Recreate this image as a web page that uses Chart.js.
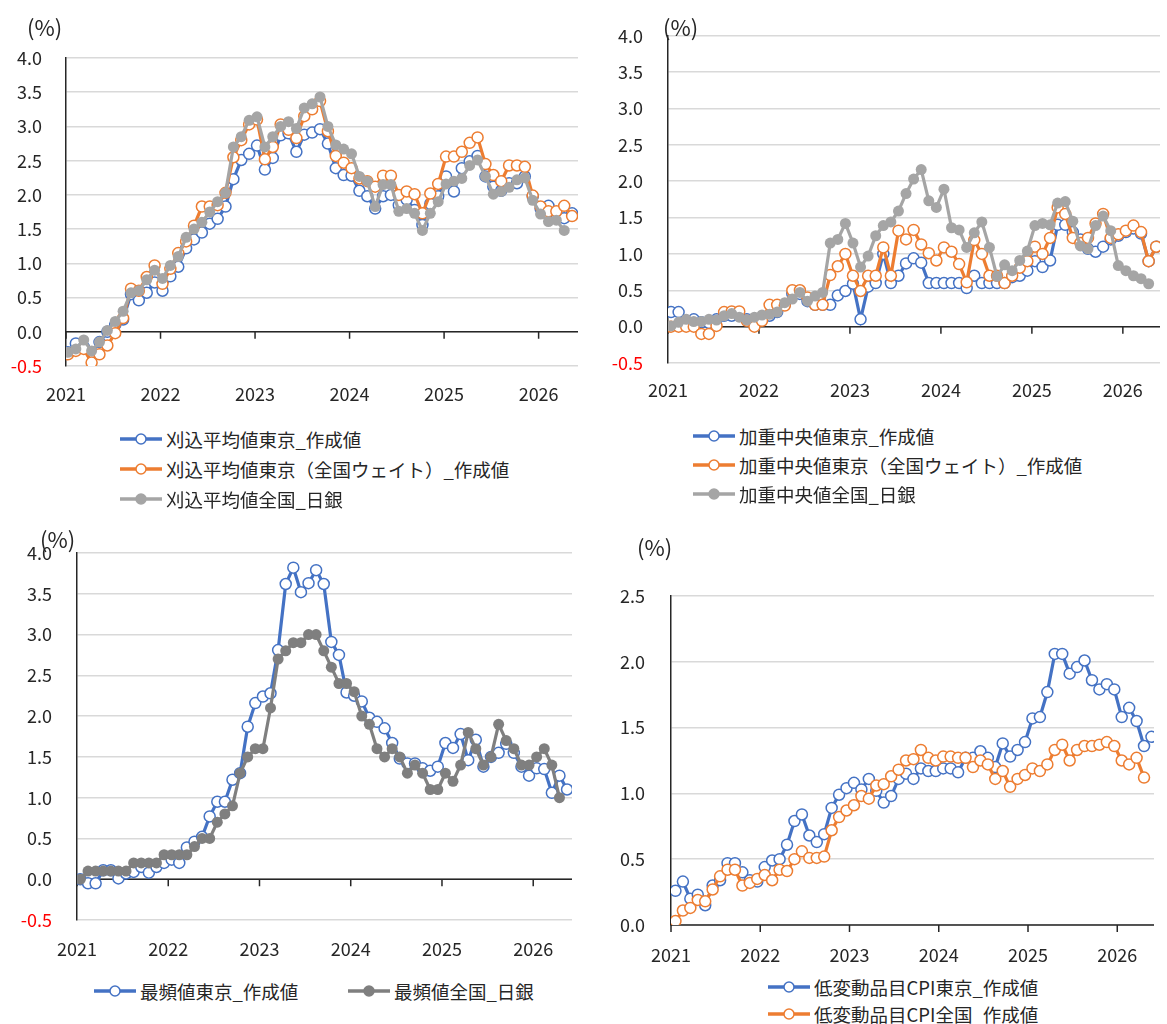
<!DOCTYPE html>
<html><head><meta charset="utf-8">
<script src="https://cdn.jsdelivr.net/npm/chart.js@4.4.1/dist/chart.umd.min.js"></script>
<style>
html,body{margin:0;padding:0;background:#fff;}
body{width:1167px;height:1024px;position:relative;overflow:hidden;font-family:"Noto Sans CJK JP","Noto Sans",sans-serif;color:#262626;}
.box{position:absolute;}
.unit{position:absolute;font-size:22px;line-height:24px;transform:translateY(-50%);}
.leg{position:absolute;font-size:18.5px;line-height:22px;display:flex;align-items:center;transform:translateY(-50%);white-space:nowrap;}
.leg svg{margin-right:4px;flex:none;}
</style></head><body>
<div class="box" style="left:0;top:0;width:590px;height:410px"><canvas id="c1"></canvas></div>
<div class="box" style="left:590px;top:0;width:577px;height:410px"><canvas id="c2"></canvas></div>
<div class="box" style="left:0;top:512px;width:590px;height:460px"><canvas id="c3"></canvas></div>
<div class="box" style="left:590px;top:512px;width:577px;height:460px"><canvas id="c4"></canvas></div>
<div class="unit" style="left:27px;top:26px">(%)</div>
<div class="unit" style="left:663px;top:26px">(%)</div>
<div class="unit" style="left:40px;top:538px">(%)</div>
<div class="unit" style="left:637px;top:546px">(%)</div>
<div id="legends"></div>
<script>
const yearLabels = ['2021','2022','2023','2024','2025','2026'];

// Panel 1: trimmed mean
const p1Names = ['刈込平均値東京_作成値','刈込平均値東京（全国ウェイト）_作成値','刈込平均値全国_日銀'];
const p1Tokyo = [-0.3,-0.17,-0.22,-0.3,-0.15,0.0,0.1,0.18,0.55,0.46,0.57,0.72,0.6,0.81,0.95,1.22,1.35,1.45,1.58,1.65,1.83,2.23,2.51,2.6,2.72,2.37,2.54,2.87,2.9,2.63,2.88,2.91,2.96,2.75,2.39,2.29,2.28,2.06,1.98,1.8,1.98,2.0,1.85,1.93,1.78,1.56,1.87,1.98,2.27,2.05,2.39,2.49,2.57,2.27,2.12,2.06,2.17,2.17,2.27,1.98,1.8,1.84,1.72,1.66,1.73];
const p1TokyoNW = [-0.33,-0.28,-0.25,-0.45,-0.33,-0.2,-0.02,0.2,0.63,0.6,0.8,0.97,0.7,0.92,1.15,1.32,1.55,1.83,1.83,1.85,2.03,2.55,2.8,3.03,3.1,2.52,2.7,3.03,2.95,2.83,3.15,3.25,3.37,2.93,2.57,2.47,2.39,2.24,2.2,2.12,2.28,2.28,2.0,2.05,2.01,1.73,2.02,2.16,2.56,2.56,2.63,2.76,2.84,2.45,2.29,2.2,2.43,2.43,2.41,1.99,1.83,1.76,1.76,1.84,1.69];
const p1BOJ = [-0.3,-0.25,-0.12,-0.28,-0.15,0.02,0.15,0.3,0.57,0.6,0.76,0.9,0.78,0.97,1.1,1.38,1.5,1.6,1.75,1.9,2.03,2.7,2.85,3.09,3.14,2.7,2.85,3.0,3.07,2.97,3.27,3.33,3.43,3.0,2.73,2.67,2.6,2.27,2.2,1.83,2.15,2.15,1.76,1.8,1.73,1.48,1.73,1.9,2.16,2.2,2.24,2.43,2.51,2.27,2.01,2.05,2.11,2.22,2.25,1.92,1.72,1.61,1.63,1.48,null];

// Panel 2: weighted median
const p2Names = ['加重中央値東京_作成値','加重中央値東京（全国ウェイト）_作成値','加重中央値全国_日銀'];
const p2Tokyo = [0.2,0.2,0.08,0.1,0.06,0.05,0.1,0.15,0.15,0.15,0.1,0.1,0.12,0.15,0.2,0.3,0.45,0.45,0.35,0.3,0.3,0.3,0.43,0.49,0.59,0.1,0.55,0.6,1.0,0.6,0.7,0.87,0.94,0.88,0.6,0.6,0.6,0.6,0.6,0.53,0.7,0.6,0.6,0.6,0.6,0.68,0.7,0.77,0.9,0.82,0.91,1.4,1.4,1.3,1.2,1.07,1.03,1.1,1.2,1.25,1.3,1.35,1.28,0.9,1.1];
const p2TokyoNW = [0,0,0,0,-0.1,-0.1,0.01,0.2,0.21,0.21,0.08,0.0,0.08,0.3,0.3,0.29,0.5,0.5,0.4,0.3,0.3,0.71,0.83,1.0,0.7,0.49,0.7,0.7,1.09,0.7,1.32,1.2,1.33,1.13,1.01,0.91,1.09,1.03,0.86,0.61,1.19,1.0,0.7,0.7,0.6,0.7,0.81,0.9,1.1,1.0,1.22,1.64,1.55,1.22,1.15,1.22,1.42,1.55,1.22,1.27,1.32,1.39,1.3,0.9,1.1];
const p2BOJ = [0.01,0.06,0.1,0.07,0.07,0.1,0.09,0.15,0.18,0.13,0.09,0.13,0.16,0.17,0.2,0.33,0.38,0.47,0.35,0.42,0.47,1.15,1.2,1.42,1.15,0.82,0.97,1.25,1.39,1.44,1.59,1.83,2.03,2.16,1.73,1.64,1.89,1.36,1.33,1.09,1.29,1.44,1.09,0.69,0.85,0.77,0.91,1.04,1.39,1.42,1.4,1.7,1.72,1.45,1.11,1.07,1.39,1.52,1.32,0.84,0.77,0.7,0.66,0.59,null];

// Panel 3: mode
const p3Names = ['最頻値東京_作成値','最頻値全国_日銀'];
const p3Tokyo = [0,-0.05,-0.05,0.11,0.11,0.01,0.07,0.09,0.15,0.08,0.15,0.2,0.24,0.2,0.39,0.46,0.52,0.77,0.95,0.95,1.22,1.3,1.87,2.16,2.24,2.28,2.81,3.62,3.82,3.52,3.63,3.79,3.62,2.91,2.75,2.29,2.25,2.18,1.98,1.93,1.85,1.67,1.48,1.42,1.42,1.36,1.33,1.38,1.67,1.61,1.78,1.46,1.71,1.38,1.5,1.55,1.66,1.55,1.38,1.27,1.36,1.35,1.06,1.27,1.1];
const p3BOJ = [0,0.1,0.1,0.1,0.1,0.1,0.1,0.2,0.2,0.2,0.2,0.3,0.3,0.3,0.3,0.4,0.5,0.5,0.7,0.8,0.9,1.3,1.5,1.6,1.6,2.1,2.7,2.8,2.9,2.9,3.0,3.0,2.8,2.6,2.4,2.4,2.3,2.0,1.9,1.6,1.5,1.6,1.5,1.3,1.4,1.3,1.1,1.1,1.3,1.2,1.4,1.8,1.6,1.4,1.5,1.9,1.7,1.6,1.4,1.4,1.5,1.6,1.4,1.0,null];

// Panel 4: low-volatility items CPI
const p4Names = ['低変動品目CPI東京_作成値','低変動品目CPI全国_作成値'];
const p4Tokyo = [0.26,0.33,0.2,0.23,0.15,0.3,0.34,0.47,0.47,0.4,0.34,0.33,0.44,0.49,0.5,0.61,0.79,0.84,0.68,0.63,0.69,0.89,0.99,1.04,1.08,1.03,1.11,1.02,0.93,0.98,1.11,1.15,1.11,1.19,1.17,1.17,1.19,1.19,1.16,1.27,1.27,1.32,1.27,1.2,1.38,1.28,1.33,1.39,1.57,1.58,1.77,2.06,2.06,1.91,1.96,2.01,1.86,1.79,1.83,1.79,1.58,1.65,1.55,1.36,1.43];
const p4National = [0.03,0.11,0.13,0.19,0.18,0.27,0.37,0.42,0.42,0.3,0.32,0.35,0.38,0.34,0.42,0.41,0.5,0.56,0.51,0.51,0.52,0.72,0.82,0.87,0.91,0.98,0.96,1.06,1.07,1.13,1.18,1.25,1.26,1.33,1.27,1.25,1.28,1.28,1.27,1.27,1.2,1.25,1.22,1.11,1.17,1.05,1.11,1.14,1.19,1.17,1.22,1.33,1.37,1.25,1.33,1.36,1.36,1.37,1.39,1.36,1.25,1.22,1.27,1.12,null];

const BLUE='#4472C4', ORANGE='#ED7D31', GRAY='#A5A5A5', DGRAY='#7F7F7F';
const FONT = '"Noto Sans CJK JP","Noto Sans",sans-serif';

const zeroAxis = {
  id:'zeroAxis',
  beforeDatasetsDraw(chart){
    const {ctx, chartArea, scales:{x,y}} = chart;
    const y0 = y.getPixelForValue(0);
    ctx.save();
    ctx.strokeStyle='#262626'; ctx.lineWidth=1.5;
    ctx.beginPath();
    ctx.moveTo(chartArea.left,y0); ctx.lineTo(chartArea.right,y0);
    x.ticks.forEach(t=>{const px=x.getPixelForValue(t.value); ctx.moveTo(px,y0); ctx.lineTo(px,y0+7);});
    ctx.stroke(); ctx.restore();
  }
};

function series(label, values, color, hollow, order){
  return {
    label, order,
    data: values.map((v,i)=>({x:i,y:v})),
    borderColor: color, borderWidth: 3.2,
    pointRadius: 5.5, pointHoverRadius: 5.5,
    pointBorderWidth: hollow ? 1.5 : 0,
    pointBorderColor: color,
    pointBackgroundColor: hollow ? '#ffffff' : color,
    tension: 0, spanGaps: false
  };
}

function makePanel(id, datasets, g){
  new Chart(document.getElementById(id), {
    type:'line',
    data:{datasets},
    plugins:[zeroAxis],
    options:{
      responsive:true, maintainAspectRatio:false, animation:false,
      layout:{padding:{top:g.padTop,right:g.padRight,left:0,bottom:0}},
      plugins:{legend:{display:false},tooltip:{enabled:false}},
      scales:{
        x:{
          type:'linear', min:g.xmin, max:g.xmax,
          afterBuildTicks(s){ s.ticks = yearLabels.map((_,k)=>({value:12*k - g.shift})); },
          afterFit(s){ s.height = g.xh; },
          grid:{display:false, drawTicks:false},
          border:{display:false},
          ticks:{autoSkip:false, maxRotation:0, padding:g.xpad, color:'#262626',
                 font:{family:FONT,size:18},
                 callback:(v,i)=>yearLabels[i]}
        },
        y:{
          min:g.ymin, max:g.ymax,
          afterFit(s){ s.width = g.yw; },
          grid:{color:'#D9D9D9', lineWidth:1.5, drawTicks:false},
          border:{display:true, color:'#262626', width:1.5},
          ticks:{stepSize:0.5, padding:g.ypad,
                 font:{family:FONT,size:18},
                 color:(c)=> c.tick && c.tick.value < 0 ? '#FF0000' : '#262626',
                 callback:(v)=>Number(v).toFixed(1)}
        }
      }
    }
  });
}

makePanel('c1', [
  series(p1Names[0], p1Tokyo, BLUE, true, 3),
  series(p1Names[1], p1TokyoNW, ORANGE, true, 2),
  series(p1Names[2], p1BOJ, GRAY, false, 1)
], {padTop:58, padRight:12, yw:66, xh:44, xpad:17, ypad:24, ymin:-0.5, ymax:4.0, shift:0.25, xmin:-0.25, xmax:64.75});

makePanel('c2', [
  series(p2Names[0], p2Tokyo, BLUE, true, 3),
  series(p2Names[1], p2TokyoNW, ORANGE, true, 2),
  series(p2Names[2], p2BOJ, GRAY, false, 1)
], {padTop:34, padRight:0, yw:78, xh:47, xpad:16, ypad:25, ymin:-0.5, ymax:4.0, shift:0.4, xmin:-0.4, xmax:64.5});

makePanel('c3', [
  series(p3Names[0], p3Tokyo, BLUE, true, 2),
  series(p3Names[1], p3BOJ, DGRAY, false, 1)
], {padTop:41, padRight:18, yw:77, xh:52, xpad:18, ypad:25, ymin:-0.5, ymax:4.0, shift:0.45, xmin:-0.45, xmax:64.65});

makePanel('c4', [
  series(p4Names[0], p4Tokyo, BLUE, true, 2),
  series(p4Names[1], p4National, ORANGE, true, 1)
], {padTop:84, padRight:13, yw:81, xh:47, xpad:19, ypad:26, ymin:0, ymax:2.5, shift:0.6, xmin:-0.6, xmax:64.34});

// HTML legends
function marker(color, hollow){
  return '<svg width="42" height="14" viewBox="0 0 42 14"><line x1="0" y1="7" x2="42" y2="7" stroke="'+color+'" stroke-width="3.5" stroke-linecap="round"/>'+
    '<circle cx="21" cy="7" r="5" fill="'+(hollow?'#fff':color)+'" stroke="'+color+'" stroke-width="1.5"/></svg>';
}
const legendItems = [
  [120,439,p1Names[0],BLUE,true],[120,469,p1Names[1],ORANGE,true],[120,499,p1Names[2],GRAY,false],
  [693,436,p2Names[0],BLUE,true],[693,465,p2Names[1],ORANGE,true],[693,494,p2Names[2],GRAY,false],
  [94,991,p3Names[0],BLUE,true],[348,991,p3Names[1],DGRAY,false],
  [768,987,p4Names[0],BLUE,true],[768,1014,p4Names[1],ORANGE,true]
];
const lg = document.getElementById('legends');
legendItems.forEach(([x,y,t,c,h])=>{
  const d=document.createElement('div'); d.className='leg';
  d.style.left=x+'px'; d.style.top=y+'px';
  d.innerHTML=marker(c,h)+'<span>'+t+'</span>';
  lg.appendChild(d);
});
</script>
</body></html>
